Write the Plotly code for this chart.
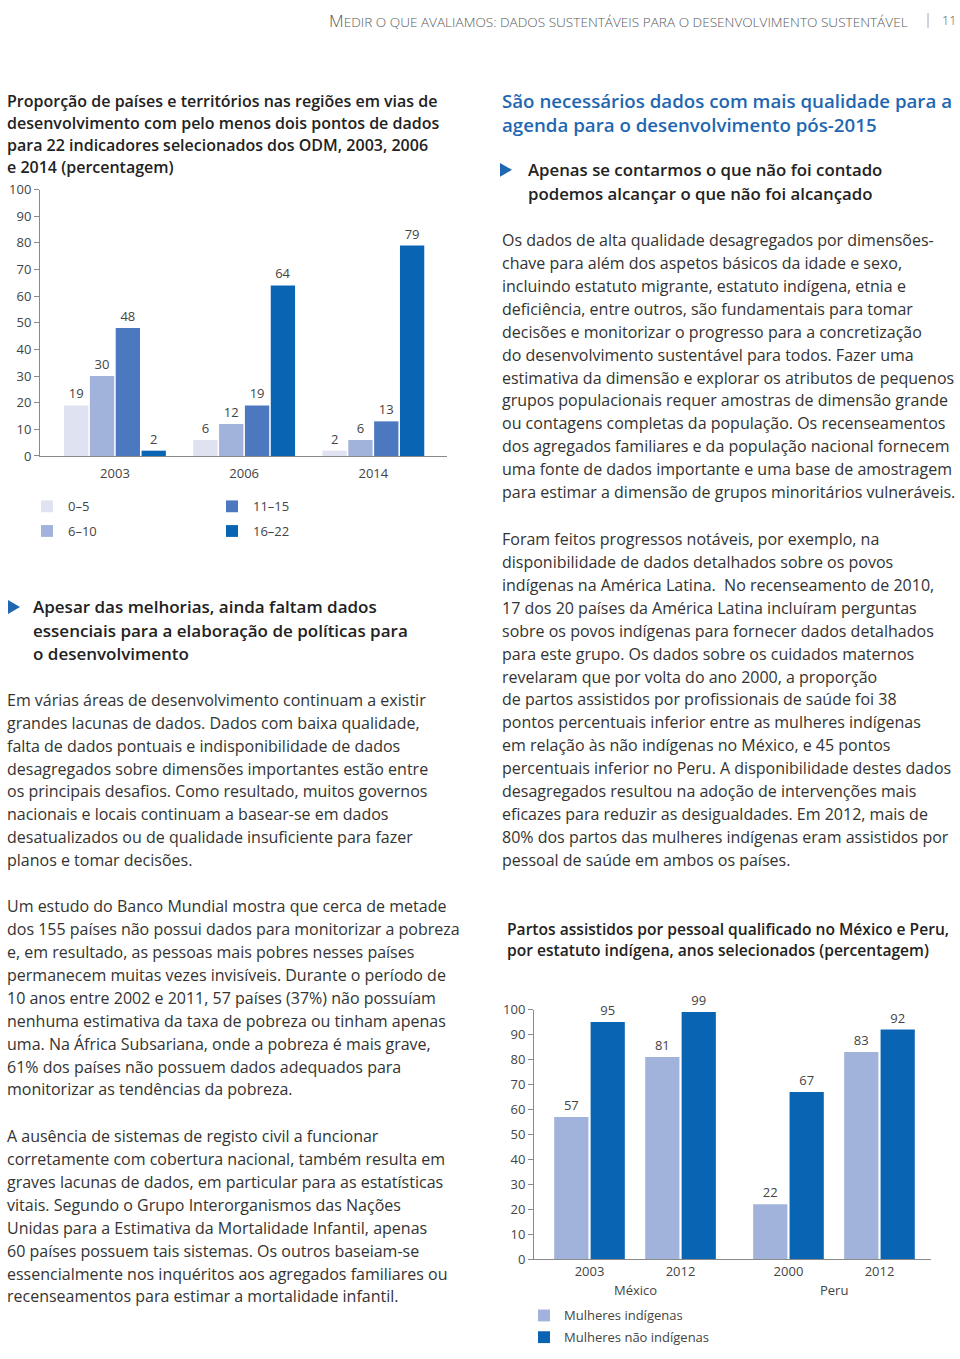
import plotly.graph_objects as go

W, H = 960, 1359

def px(x):
    return x / W

def py(y):
    return 1 - y / H

# ---------------- DATA ----------------
years1 = ["2003", "2006", "2014"]
groups1 = ["0–5", "6–10", "11–15", "16–22"]
values1 = {
    "0–5": [19, 6, 2],
    "6–10": [30, 12, 6],
    "11–15": [48, 19, 13],
    "16–22": [2, 64, 79],
}
colors1 = ["#dfe3f1", "#a2b3db", "#4c78c0", "#0a64b4"]

mex_years = ["2003", "2012"]
peru_years = ["2000", "2012"]
series2 = ["Mulheres indígenas", "Mulheres não indígenas"]
mex_values = {"Mulheres indígenas": [57, 81], "Mulheres não indígenas": [95, 99]}
peru_values = {"Mulheres indígenas": [22, 83], "Mulheres não indígenas": [67, 92]}
colors2 = ["#a2b3db", "#0a64b4"]
yticks = list(range(0, 101, 10))

TXT = "#333333"
HEAD = "#222222"
AX = "#8a8a8a"
LBL = "#444444"
BLUE = "#1f67b1"
FONT = "Open Sans"

fig = go.Figure()

# ---------------- CHART 1 ----------------
for g, c in zip(groups1, colors1):
    fig.add_trace(go.Bar(
        x=years1, y=values1[g], name=g, marker_color=c, marker_line_width=0,
        text=[str(v) for v in values1[g]], textposition="outside",
        textfont=dict(size=13, color=LBL, family=FONT),
        cliponaxis=False, xaxis="x", yaxis="y", showlegend=False,
    ))

# ---------------- CHART 2 ----------------
for s, c in zip(series2, colors2):
    fig.add_trace(go.Bar(
        x=mex_years, y=mex_values[s], name=s, marker_color=c, marker_line_width=0,
        text=[str(v) for v in mex_values[s]], textposition="outside",
        textfont=dict(size=13, color=LBL, family=FONT),
        cliponaxis=False, xaxis="x2", yaxis="y2", showlegend=False,
    ))
    fig.add_trace(go.Bar(
        x=peru_years, y=peru_values[s], name=s, marker_color=c, marker_line_width=0,
        text=[str(v) for v in peru_values[s]], textposition="outside",
        textfont=dict(size=13, color=LBL, family=FONT),
        cliponaxis=False, xaxis="x3", yaxis="y2", showlegend=False,
    ))

axis_common = dict(showgrid=False, zeroline=False, showline=True, linecolor=AX, linewidth=1,
                   tickfont=dict(size=13, color=LBL, family=FONT), fixedrange=True)

fig.update_layout(
    width=W, height=H, margin=dict(l=0, r=0, t=0, b=0),
    paper_bgcolor="white", plot_bgcolor="rgba(0,0,0,0)",
    barmode="group", bargap=0.2, bargroupgap=0.06,
    font=dict(family=FONT, color=TXT),
    xaxis=dict(domain=[px(40), px(447)], anchor="y", type="category",
               range=[-0.58, 2.57], ticks="outside", ticklen=5, tickcolor="rgba(0,0,0,0)",
               **axis_common),
    yaxis=dict(domain=[py(453), py(183)], anchor="x", range=[0, 100],
               tickvals=yticks, ticks="outside", ticklen=5, tickcolor=AX, **axis_common),
    xaxis2=dict(domain=[px(534), px(734.5)], anchor="y2", type="category",
                range=[-0.61, 1.593], ticks="", **axis_common),
    xaxis3=dict(domain=[px(734.5), px(931)], anchor="y2", type="category",
                range=[-0.593, 1.566], ticks="", **axis_common),
    yaxis2=dict(domain=[py(1267), py(1014)], anchor="x2", range=[0, 100],
                tickvals=yticks, ticks="outside", ticklen=5, tickcolor=AX, **axis_common),
)

annotations = []
shapes = []

def text(x, y, s, size=16, color=TXT, weight="normal", anchor="left", family=FONT):
    annotations.append(dict(
        x=px(x), y=py(y), xref="paper", yref="paper", text=s,
        showarrow=False, xanchor=anchor, yanchor="middle",
        font=dict(size=size, color=color, family=family, weight=weight),
    ))

def block(x, y0, lines, step=23.25, **kw):
    for i, ln in enumerate(lines):
        text(x, y0 + i * step, ln, **kw)

# Header (small caps imitation)
header = ("M<span style='font-size:13.6px'>EDIR O QUE AVALIAMOS: DADOS SUSTENTÁVEIS PARA O "
          "DESENVOLVIMENTO SUSTENTÁVEL</span>")
text(327, 12, header, size=17, color="#5a5a5a", weight=300)
shapes.append(dict(type="line", xref="paper", yref="paper", x0=px(928), x1=px(928),
                   y0=py(4), y1=py(19), line=dict(color="#9aa7c0", width=1)))
text(958, 12, "11", size=12.5, color="#5a5a5a", weight=300, anchor="right")

# Left column
block(5, 93, ["Proporção de países e territórios nas regiões em vias de",
              "desenvolvimento com pelo menos dois pontos de dados",
              "para 22 indicadores selecionados dos ODM, 2003, 2006",
              "e 2014 (percentagem)"], step=22.3, size=16, weight=600, color=HEAD)

# Chart 1 legend
leg1 = [(41, 504, 0), (41, 529, 1), (226, 504, 2), (226, 529, 3)]
for lx, ly, i in leg1:
    shapes.append(dict(type="rect", xref="paper", yref="paper", x0=px(lx), x1=px(lx + 12),
                       y0=py(ly + 6), y1=py(ly - 6), fillcolor=colors1[i], line=dict(width=0)))
    text(lx + 25, ly, groups1[i], size=13, color=LBL)

shapes.append(dict(type="path", xref="paper", yref="paper",
                   path=f"M {px(8)} {py(599)} L {px(8)} {py(613)} L {px(20)} {py(606)} Z",
                   fillcolor=BLUE, line=dict(width=0)))
block(31, 606, ["Apesar das melhorias, ainda faltam dados",
                "essenciais para a elaboração de políticas para",
                "o desenvolvimento"], step=23.5, size=17, weight=600, color=HEAD)

block(5, 700, ["Em várias áreas de desenvolvimento continuam a existir",
               "grandes lacunas de dados. Dados com baixa qualidade,",
               "falta de dados pontuais e indisponibilidade de dados",
               "desagregados sobre dimensões importantes estão entre",
               "os principais desafios. Como resultado, muitos governos",
               "nacionais e locais continuam a basear-se em dados",
               "desatualizados ou de qualidade insuficiente para fazer",
               "planos e tomar decisões."], size=16)

block(5, 909, ["Um estudo do Banco Mundial mostra que cerca de metade",
               "dos 155 países não possui dados para monitorizar a pobreza",
               "e, em resultado, as pessoas mais pobres nesses países",
               "permanecem muitas vezes invisíveis. Durante o período de",
               "10 anos entre 2002 e 2011, 57 países (37%) não possuíam",
               "nenhuma estimativa da taxa de pobreza ou tinham apenas",
               "uma. Na África Subsariana, onde a pobreza é mais grave,",
               "61% dos países não possuem dados adequados para",
               "monitorizar as tendências da pobreza."], size=16)

block(5, 1142, ["A ausência de sistemas de registo civil a funcionar",
                "corretamente com cobertura nacional, também resulta em",
                "graves lacunas de dados, em particular para as estatísticas",
                "vitais. Segundo o Grupo Interorganismos das Nações",
                "Unidas para a Estimativa da Mortalidade Infantil, apenas",
                "60 países possuem tais sistemas. Os outros baseiam-se",
                "essencialmente nos inquéritos aos agregados familiares ou",
                "recenseamentos para estimar a mortalidade infantil."], size=16)

# Right column
block(500, 93, ["São necessários dados com mais qualidade para a",
                "agenda para o desenvolvimento pós-2015"], step=24, size=18.7, weight=600,
      color=BLUE)
shapes.append(dict(type="path", xref="paper", yref="paper",
                   path=f"M {px(500)} {py(156)} L {px(500)} {py(170)} L {px(512)} {py(163)} Z",
                   fillcolor=BLUE, line=dict(width=0)))
block(526, 163, ["Apenas se contarmos o que não foi contado",
                 "podemos alcançar o que não foi alcançado"], step=24, size=16.8, weight=600,
      color=HEAD)

block(500, 234, ["Os dados de alta qualidade desagregados por dimensões-",
                 "chave para além dos aspetos básicos da idade e sexo,",
                 "incluindo estatuto migrante, estatuto indígena, etnia e",
                 "deficiência, entre outros, são fundamentais para tomar",
                 "decisões e monitorizar o progresso para a concretização",
                 "do desenvolvimento sustentável para todos. Fazer uma",
                 "estimativa da dimensão e explorar os atributos de pequenos",
                 "grupos populacionais requer amostras de dimensão grande",
                 "ou contagens completas da população. Os recenseamentos",
                 "dos agregados familiares e da população nacional fornecem",
                 "uma fonte de dados importante e uma base de amostragem",
                 "para estimar a dimensão de grupos minoritários vulneráveis."], size=16)

block(500, 537, ["Foram feitos progressos notáveis, por exemplo, na",
                 "disponibilidade de dados detalhados sobre os povos",
                 "indígenas na América Latina.  No recenseamento de 2010,",
                 "17 dos 20 países da América Latina incluíram perguntas",
                 "sobre os povos indígenas para fornecer dados detalhados",
                 "para este grupo. Os dados sobre os cuidados maternos",
                 "revelaram que por volta do ano 2000, a proporção",
                 "de partos assistidos por profissionais de saúde foi 38",
                 "pontos percentuais inferior entre as mulheres indígenas",
                 "em relação às não indígenas no México, e 45 pontos",
                 "percentuais inferior no Peru. A disponibilidade destes dados",
                 "desagregados resultou na adoção de intervenções mais",
                 "eficazes para reduzir as desigualdades. Em 2012, mais de",
                 "80% dos partos das mulheres indígenas eram assistidos por",
                 "pessoal de saúde em ambos os países."], size=16)

block(505, 932, ["Partos assistidos por pessoal qualificado no México e Peru,",
                 "por estatuto indígena, anos selecionados (percentagem)"],
      step=22, size=15.6, weight=600, color=HEAD)

# Chart 2 country labels
text(635, 1298, "México", size=13, color=LBL, anchor="center")
text(834, 1298, "Peru", size=13, color=LBL, anchor="center")

# Chart 2 legend
for i, (ly, s) in enumerate(zip([1324, 1346], series2)):
    shapes.append(dict(type="rect", xref="paper", yref="paper", x0=px(538), x1=px(550),
                       y0=py(ly + 6), y1=py(ly - 6), fillcolor=colors2[i], line=dict(width=0)))
    text(562, ly, s, size=13, color=LBL)

fig.update_layout(annotations=annotations, shapes=shapes)

# remove the default page margin so the figure fills the 960x1359 window exactly
page_js = ("document.documentElement.style.margin='0';document.body.style.margin='0';"
           "document.body.style.padding='0';document.body.style.overflow='hidden';")
fig.write_html("out.html", post_script=page_js,
               config={"displayModeBar": False, "staticPlot": True})
